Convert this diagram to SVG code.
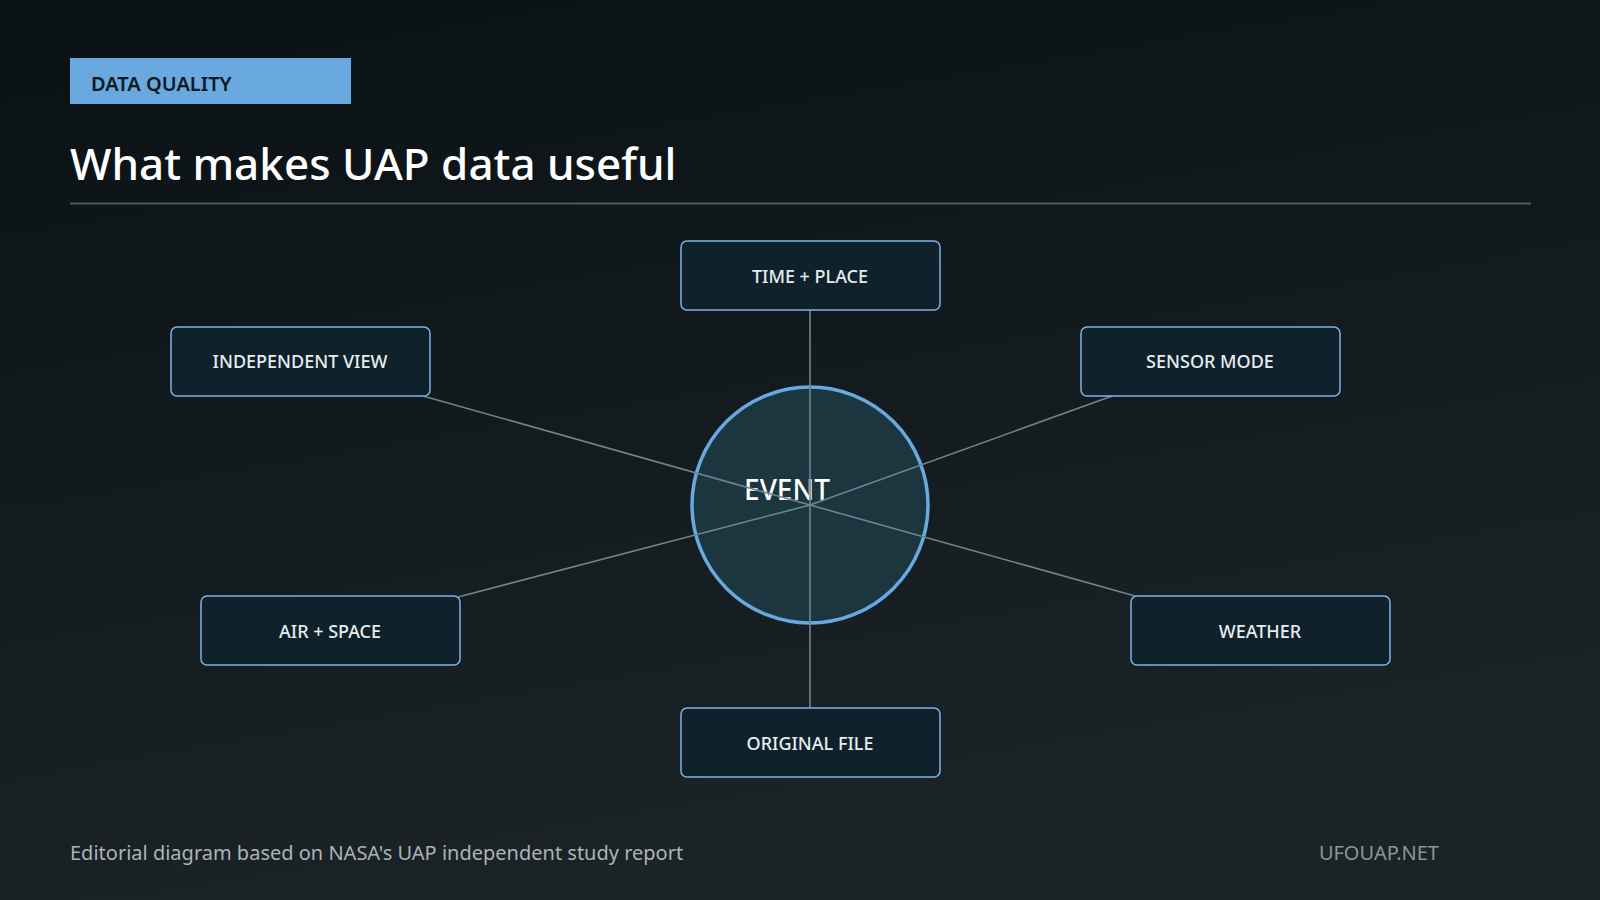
<svg xmlns="http://www.w3.org/2000/svg" width="1600" height="900" viewBox="0 0 1600 900">
<defs>
<linearGradient id="bg" x1="0" y1="0" x2="0.3" y2="1"><stop offset="0" stop-color="#0a1114"/><stop offset="1" stop-color="#1b2326"/></linearGradient>
<style>
.t{font-family:"Noto Sans","Open Sans",sans-serif}
.box{fill:#0f212a;stroke:#7ab4ea;stroke-width:1.5}
.lbl{font-family:"Noto Sans","Open Sans",sans-serif;font-size:18px;fill:#e6edf0;text-anchor:middle;font-weight:500}
.c{stroke:#6a8792;stroke-width:1.6}
</style>
</defs>
<rect width="1600" height="900" fill="url(#bg)"/>
<rect x="70" y="58" width="281" height="46" fill="#6aa8e0"/>
<text x="91" y="91" class="t" font-size="20" font-weight="600" fill="#0c1a22">DATA QUALITY</text>
<text x="70" y="180" class="t" font-size="44" font-weight="500" fill="#ffffff">What makes UAP data useful</text>
<line x1="70" y1="203.500" x2="1531" y2="203.500" stroke="#4a5a60" stroke-width="2"/>
<g id="center"><circle cx="810" cy="505" r="118" fill="#1c3640" stroke="#6aa8e0" stroke-width="3.500"/><text x="787" y="500" class="t" font-size="28" font-weight="500" fill="#ffffff" text-anchor="middle">EVENT</text></g>
<g id="connectors">
<line class="c" x1="810" y1="505" x2="810" y2="310"/>
<line class="c" x1="810" y1="505" x2="423" y2="396"/>
<line class="c" x1="810" y1="505" x2="1115" y2="395"/>
<line class="c" x1="810" y1="505" x2="458" y2="597"/>
<line class="c" x1="810" y1="505" x2="1135" y2="596"/>
<line class="c" x1="810" y1="505" x2="810" y2="708"/>
</g>
<g id="n-time"><rect class="box" x="681" y="241" width="259" height="69" rx="6"/><text class="lbl" x="810" y="283">TIME + PLACE</text></g>
<g id="n-indep"><rect class="box" x="171" y="327" width="259" height="69" rx="6"/><text class="lbl" x="300" y="368">INDEPENDENT VIEW</text></g>
<g id="n-sensor"><rect class="box" x="1081" y="327" width="259" height="69" rx="6"/><text class="lbl" x="1210" y="368">SENSOR MODE</text></g>
<g id="n-air"><rect class="box" x="201" y="596" width="259" height="69" rx="6"/><text class="lbl" x="330" y="638">AIR + SPACE</text></g>
<g id="n-weather"><rect class="box" x="1131" y="596" width="259" height="69" rx="6"/><text class="lbl" x="1260" y="638">WEATHER</text></g>
<g id="n-file"><rect class="box" x="681" y="708" width="259" height="69" rx="6"/><text class="lbl" x="810" y="750">ORIGINAL FILE</text></g>
<text x="70" y="860" class="t" font-size="20" fill="#aab4b8">Editorial diagram based on NASA's UAP independent study report</text>
<text x="1439" y="860" class="t" font-size="20" fill="#8a969a" text-anchor="end">UFOUAP.NET</text>
</svg>
